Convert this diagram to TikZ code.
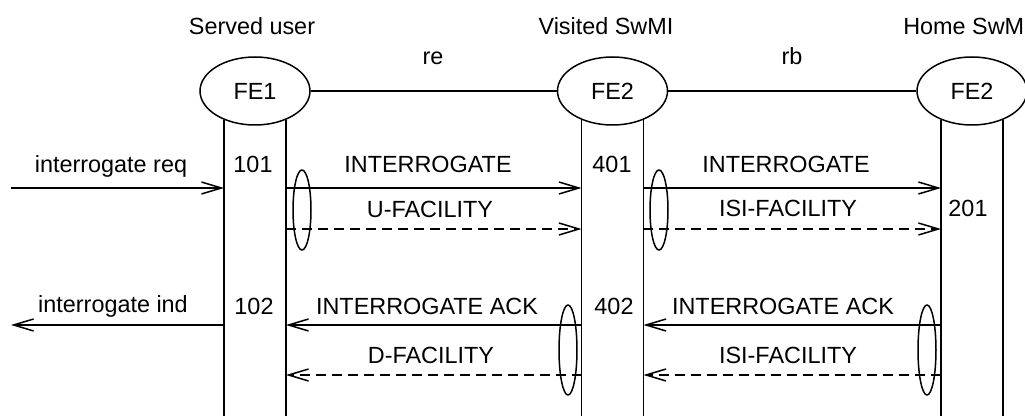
\documentclass[tikz,border=0pt]{standalone}
\usepackage{fontspec}
\setmainfont{Liberation Sans}
\usetikzlibrary{arrows.meta,shapes.geometric}

\begin{document}
\begin{tikzpicture}[x=0.5pt,y=-0.5pt,line width=0.75pt,
		font=\fontsize{11.7}{14}\selectfont,
		>={Straight Barb[length=10pt,width=6pt]},
		fe/.style={draw,ellipse,inner sep=0pt,minimum width=55pt,minimum height=34pt},
		grp/.style={draw,ellipse,inner sep=0pt,minimum width=9pt,minimum height=40pt},
		lbl/.style={anchor=base,inner sep=0pt},
		fac/.style={->,dash pattern=on 5pt off 3pt}]
			\useasboundingbox (0,0) rectangle (1025,416);
			\node [fe] (fe1) at (255,91) {FE1};
			\node [fe] (fe2v) at (612.5,91) {FE2};
			\node [fe] (fe2h) at (972,91) {FE2};
			\node [lbl] (su) at (252,35) {Served user};
			\node [lbl] (vs) at (606,35) {Visited SwMI};
			\node [lbl] (hs) at (967,35) {Home SwMI};
			\node [lbl] (re) at (433,65) {re};
			\node [lbl] (rb) at (792,65) {rb};
			\draw (fe1) -- (fe2v);
			\draw (fe2v) -- (fe2h);
			\coordinate (bot) at (0,416);
			\foreach \n in {fe1,fe2v,fe2h} {
				\coordinate (\n-l) at (\n.223.5);
				\coordinate (\n-r) at (\n.-43.5);
				\draw (\n-l) -- (\n-l |- bot);
				\draw (\n-r) -- (\n-r |- bot);
			}
			\coordinate (env) at (11,0);
			\coordinate (req) at (0,188);
			\coordinate (fac1) at (0,229);
			\coordinate (ack) at (0,325);
			\coordinate (fac2) at (0,375);
			\draw [->] (env |- req) -- (fe1-l |- req);
			\draw [->] (fe1-r |- req) -- (fe2v-l |- req);
			\draw [->] (fe2v-r |- req) -- (fe2h-l |- req);
			\draw [fac] (fe1-r |- fac1) -- (fe2v-l |- fac1);
			\draw [fac] (fe2v-r |- fac1) -- (fe2h-l |- fac1);
			\draw [->] (fe1-l |- ack) -- (env |- ack);
			\draw [->] (fe2v-l |- ack) -- (fe1-r |- ack);
			\draw [->] (fe2h-l |- ack) -- (fe2v-r |- ack);
			\draw [fac] (fe2v-l |- fac2) -- (fe1-r |- fac2);
			\draw [fac] (fe2h-l |- fac2) -- (fe2v-r |- fac2);
			\node [grp] (g1) at (302,210) {};
			\node [grp] (g2) at (659,210) {};
			\node [grp,minimum height=45pt] (g3) at (568,350) {};
			\node [grp,minimum height=45pt] (g4) at (927,350) {};
			\node [lbl] (t1) at (111,173) {interrogate req};
			\node [lbl] (n101) at (253,173) {101};
			\node [lbl] (t2) at (428,173) {INTERROGATE};
			\node [lbl] (n401) at (612,173) {401};
			\node [lbl] (t3) at (786,173) {INTERROGATE};
			\node [lbl] (t4) at (430,218) {U-FACILITY};
			\node [lbl] (t5) at (788,217) {ISI-FACILITY};
			\node [lbl] (n201) at (968,217) {201};
			\node [lbl] (t6) at (113,313) {interrogate ind};
			\node [lbl] (n102) at (254,315) {102};
			\node [lbl] (t7) at (427,315) {INTERROGATE ACK};
			\node [lbl] (n402) at (614,315) {402};
			\node [lbl] (t8) at (783,315) {INTERROGATE ACK};
			\node [lbl] (t9) at (431,364) {D-FACILITY};
			\node [lbl] (t10) at (788,364) {ISI-FACILITY};
		\end{tikzpicture}
\end{document}
